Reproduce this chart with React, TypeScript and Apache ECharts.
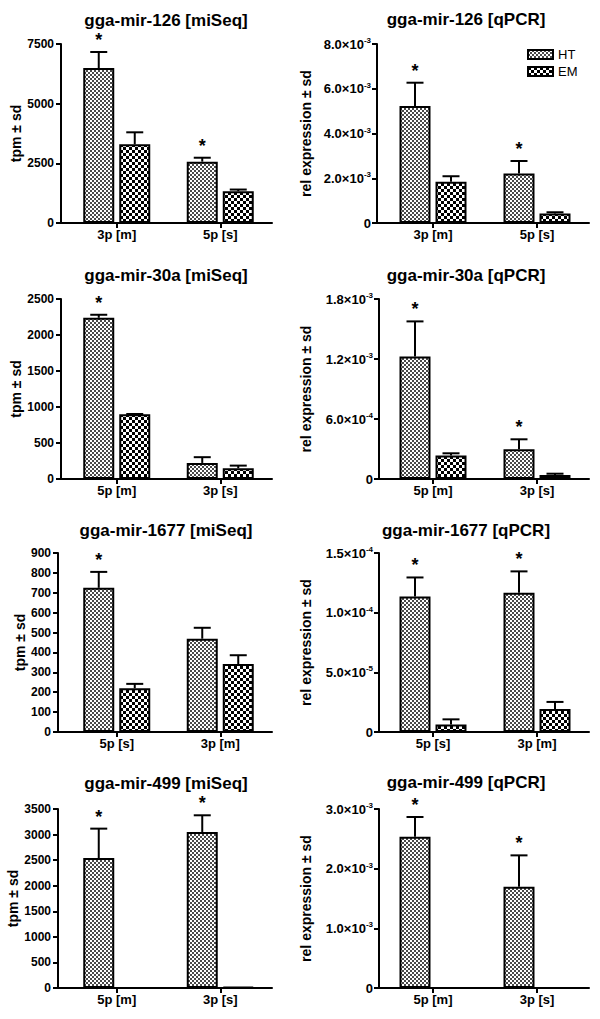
import React, { useEffect, useRef } from "react";
import * as echarts from "echarts";

// ---------- data ----------
const CATS_126 = ["3p [m]", "5p [s]"];
const CATS_30A = ["5p [m]", "3p [s]"];
const CATS_1677 = ["5p [s]", "3p [m]"];
const CATS_499 = ["5p [m]", "3p [s]"];

const SEQ126_HT = [6490, 2570];
const SEQ126_HT_SD = [675, 165];
const SEQ126_EM = [3295, 1332];
const SEQ126_EM_SD = [505, 70];
const SEQ126_SIG = [1, 1];

const PCR126_HT = [5.23e-3, 2.21e-3];
const PCR126_HT_SD = [1.04e-3, 0.56e-3];
const PCR126_EM = [1.84e-3, 0.42e-3];
const PCR126_EM_SD = [0.25e-3, 0.06e-3];
const PCR126_SIG = [1, 1];

const SEQ30A_HT = [2239, 223];
const SEQ30A_HT_SD = [42, 80];
const SEQ30A_EM = [898, 149];
const SEQ30A_EM_SD = [5, 37];
const SEQ30A_SIG = [1, 0];

const PCR30A_HT = [1.225e-3, 2.97e-4];
const PCR30A_HT_SD = [3.51e-4, 1.0e-4];
const PCR30A_EM = [2.34e-4, 4.0e-5];
const PCR30A_EM_SD = [2.3e-5, 1.3e-5];
const PCR30A_SIG = [1, 1];

const SEQ1677_HT = [725, 469];
const SEQ1677_HT_SD = [80, 55];
const SEQ1677_EM = [220, 342];
const SEQ1677_EM_SD = [22, 44];
const SEQ1677_SIG = [1, 0];

const PCR1677_HT = [1.136e-4, 1.167e-4];
const PCR1677_HT_SD = [1.59e-5, 1.79e-5];
const PCR1677_EM = [6.2e-6, 1.93e-5];
const PCR1677_EM_SD = [4.4e-6, 5.9e-6];
const PCR1677_SIG = [1, 1];

const SEQ499_HT = [2542, 3051];
const SEQ499_HT_SD = [574, 326];
const SEQ499_EM = [0, 20];
const SEQ499_EM_SD = [0, 0];
const SEQ499_SIG = [1, 1];

const PCR499_HT = [2.536e-3, 1.698e-3];
const PCR499_HT_SD = [3.3e-4, 5.25e-4];
const PCR499_EM = [0, 0];
const PCR499_EM_SD = [0, 0];
const PCR499_SIG = [1, 1];

const TITLES = [
  "gga-mir-126 [miSeq]",
  "gga-mir-126 [qPCR]",
  "gga-mir-30a [miSeq]",
  "gga-mir-30a [qPCR]",
  "gga-mir-1677 [miSeq]",
  "gga-mir-1677 [qPCR]",
  "gga-mir-499 [miSeq]",
  "gga-mir-499 [qPCR]",
];
const Y_NAME_SEQ = "tpm ± sd";
const Y_NAME_PCR = "rel expression ± sd";
const Y_MAX = [7500, 0.008, 2500, 0.0018, 900, 1.5e-4, 3500, 0.003];
const Y_INTERVAL = [2500, 0.002, 500, 0.0006, 100, 5e-5, 500, 0.001];

const PANELS = [
  { cats: CATS_126, ht: SEQ126_HT, htSd: SEQ126_HT_SD, em: SEQ126_EM, emSd: SEQ126_EM_SD, sig: SEQ126_SIG },
  { cats: CATS_126, ht: PCR126_HT, htSd: PCR126_HT_SD, em: PCR126_EM, emSd: PCR126_EM_SD, sig: PCR126_SIG },
  { cats: CATS_30A, ht: SEQ30A_HT, htSd: SEQ30A_HT_SD, em: SEQ30A_EM, emSd: SEQ30A_EM_SD, sig: SEQ30A_SIG },
  { cats: CATS_30A, ht: PCR30A_HT, htSd: PCR30A_HT_SD, em: PCR30A_EM, emSd: PCR30A_EM_SD, sig: PCR30A_SIG },
  { cats: CATS_1677, ht: SEQ1677_HT, htSd: SEQ1677_HT_SD, em: SEQ1677_EM, emSd: SEQ1677_EM_SD, sig: SEQ1677_SIG },
  { cats: CATS_1677, ht: PCR1677_HT, htSd: PCR1677_HT_SD, em: PCR1677_EM, emSd: PCR1677_EM_SD, sig: PCR1677_SIG },
  { cats: CATS_499, ht: SEQ499_HT, htSd: SEQ499_HT_SD, em: SEQ499_EM, emSd: SEQ499_EM_SD, sig: SEQ499_SIG },
  { cats: CATS_499, ht: PCR499_HT, htSd: PCR499_HT_SD, em: PCR499_EM, emSd: PCR499_EM_SD, sig: PCR499_SIG },
];

// ---------- layout ----------
const FONT = 'Arial, "Liberation Sans", Helvetica, sans-serif';
const ROW_TOP = [44, 299, 553, 809];
const ROW_H = [179, 180, 179, 179];
const LEFT_GRID_X = 65;
const LEFT_GRID_W = 207;
const RIGHT_GRID_X = 381;
const RIGHT_GRID_W = 208;
const AXIS_X = [61, 377, 61, 379, 58, 379, 58, 379];
const NAME_GAP = [34, 64, 36, 66, 26, 66, 32, 66];
const TITLE_X = [166, 466];
const TITLE_Y = [20, 19, 275, 275, 530, 530, 783, 782];
const BAR_W = 31;
const BAR_GAP_PX = 5;
const OFFSET = (BAR_W + BAR_GAP_PX) / 2;
const CAP = 8.5;

function makePattern(size: number, cell: number, dark: string, light: string) {
  const c = document.createElement("canvas");
  c.width = size;
  c.height = size;
  const ctx = c.getContext("2d")!;
  ctx.fillStyle = light;
  ctx.fillRect(0, 0, size, size);
  ctx.fillStyle = dark;
  for (let y = 0; y < size; y += cell) {
    for (let x = 0; x < size; x += cell) {
      if (((x / cell) + (y / cell)) % 2 === 0) ctx.fillRect(x, y, cell, cell);
    }
  }
  return c;
}

function sciLabel(v: number) {
  if (v === 0) return "{m|0}";
  const e = Math.floor(Math.log10(v) + 1e-9);
  const m = v / Math.pow(10, e);
  return "{m|" + m.toFixed(1) + "×10}{s|" + e + "}";
}

export default function App() {
  const ref = useRef<HTMLDivElement>(null);
  useEffect(() => {
    if (!ref.current) return;
    const chart = echarts.init(ref.current, null, { renderer: "svg" });
    const htPattern = makePattern(4, 2, "#4a4a4a", "#ffffff");
    const emPattern = makePattern(6, 3, "#000000", "#ffffff");

    const grids: any[] = [];
    const xAxes: any[] = [];
    const yAxes: any[] = [];
    const series: any[] = [];
    const graphics: any[] = [];

    PANELS.forEach((p, i) => {
      const col = i % 2;
      const row = Math.floor(i / 2);
      const gx = col === 0 ? LEFT_GRID_X : RIGHT_GRID_X;
      const gw = col === 0 ? LEFT_GRID_W : RIGHT_GRID_W;
      grids.push({ left: gx, top: ROW_TOP[row], width: gw, height: ROW_H[row], containLabel: false });
      xAxes.push({
        gridIndex: i,
        type: "category",
        data: p.cats,
        axisLine: { show: true, lineStyle: { color: "#000", width: 2 } },
        axisTick: { show: true, alignWithLabel: true, length: 5, lineStyle: { color: "#000", width: 2 } },
        axisLabel: { color: "#000", fontWeight: "bold", fontSize: 13, fontFamily: FONT, margin: 5 },
        splitLine: { show: false },
      });
      const isPcr = col === 1;
      yAxes.push({
        gridIndex: i,
        type: "value",
        min: 0,
        max: Y_MAX[i],
        interval: Y_INTERVAL[i],
        offset: gx - AXIS_X[i],
        axisLine: { show: true, lineStyle: { color: "#000", width: 2 } },
        axisTick: { show: true, length: 5, lineStyle: { color: "#000", width: 2 } },
        splitLine: { show: false },
        axisLabel: isPcr
          ? {
              formatter: (v: number) => sciLabel(v),
              margin: 6,
              rich: {
                m: { fontSize: 13, fontWeight: "bold", color: "#000", fontFamily: FONT, lineHeight: 15 },
                s: { fontSize: 8, fontWeight: "bold", color: "#000", fontFamily: FONT, lineHeight: 9, verticalAlign: "top" },
              },
            }
          : {
              formatter: (v: number) => String(v),
              margin: 7,
              color: "#000",
              fontWeight: "bold",
              fontSize: 12,
              fontFamily: FONT,
            },
        name: isPcr ? Y_NAME_PCR : Y_NAME_SEQ,
        nameLocation: "middle",
        nameGap: NAME_GAP[i],
        nameTextStyle: { color: "#000", fontWeight: "bold", fontSize: isPcr ? 14 : 14, fontFamily: FONT },
      });
      const barCommon = {
        type: "bar",
        xAxisIndex: i,
        yAxisIndex: i,
        barWidth: BAR_W,
        barGap: (BAR_GAP_PX / BAR_W) * 100 + "%",
        silent: true,
        emphasis: { disabled: true },
      };
      series.push({
        ...barCommon,
        name: "HT",
        data: p.ht,
        itemStyle: { color: { image: htPattern, repeat: "repeat" }, borderColor: "#000", borderWidth: 2 },
      });
      series.push({
        ...barCommon,
        name: "EM",
        data: p.em,
        itemStyle: { color: { image: emPattern, repeat: "repeat" }, borderColor: "#000", borderWidth: 2 },
      });
      const errData: any[] = [];
      p.cats.forEach((_, k) => {
        errData.push([k, p.ht[k], p.htSd[k], 0, p.sig[k]]);
        errData.push([k, p.em[k], p.emSd[k], 1, 0]);
      });
      series.push({
        type: "custom",
        name: "err" + i,
        xAxisIndex: i,
        yAxisIndex: i,
        silent: true,
        data: errData,
        encode: { x: 0, y: 1 },
        renderItem: (params: any, api: any) => {
          const cat = api.value(0);
          const mean = api.value(1);
          const sd = api.value(2);
          const which = api.value(3);
          const sig = api.value(4);
          const c = api.coord([cat, mean]);
          const t = api.coord([cat, mean + sd]);
          const x = c[0] + (which === 0 ? -OFFSET : OFFSET);
          const children: any[] = [];
          if (sd > 0) {
            children.push({
              type: "line",
              shape: { x1: x, y1: c[1], x2: x, y2: t[1] },
              style: { stroke: "#000", lineWidth: 2 },
            });
            children.push({
              type: "line",
              shape: { x1: x - CAP, y1: t[1], x2: x + CAP, y2: t[1] },
              style: { stroke: "#000", lineWidth: 2 },
            });
          }
          if (sig) {
            children.push({
              type: "text",
              style: {
                text: "*",
                x,
                y: t[1] - 12,
                textAlign: "center",
                textVerticalAlign: "middle",
                align: "center",
                verticalAlign: "middle",
                font: "bold 18px " + FONT,
                fill: "#000",
              },
            });
          }
          return { type: "group", children };
        },
      });
      // axis corner filler (x axis line reaching the offset y axis)
      const zeroY = ROW_TOP[row] + ROW_H[row];
      graphics.push({
        type: "line",
        shape: { x1: AXIS_X[i] - 1, y1: zeroY, x2: gx + 1, y2: zeroY },
        style: { stroke: "#000", lineWidth: 2 },
        silent: true,
      });
      graphics.push({
        type: "text",
        style: {
          text: TITLES[i],
          x: TITLE_X[col],
          y: TITLE_Y[i],
          textAlign: "center",
          textVerticalAlign: "middle",
          align: "center",
          verticalAlign: "middle",
          font: "bold 17px " + FONT,
          fill: "#000",
        },
        silent: true,
      });
    });

    chart.setOption({
      animation: false,
      backgroundColor: "#fff",
      tooltip: { show: false },
      legend: {
        data: ["HT", "EM"],
        orient: "vertical",
        left: 527,
        top: 48,
        padding: 0,
        itemWidth: 25,
        itemHeight: 9,
        itemGap: 4,
        icon: "rect",
        selectedMode: false,
        textStyle: { color: "#000", fontSize: 13, fontFamily: FONT },
      },
      grid: grids,
      xAxis: xAxes,
      yAxis: yAxes,
      series,
      graphic: graphics,
    });
    return () => chart.dispose();
  }, []);
  return (
    <div
      ref={ref}
      style={{ position: "absolute", left: 0, top: 0, width: 600, height: 1019, background: "#fff" }}
    />
  );
}
